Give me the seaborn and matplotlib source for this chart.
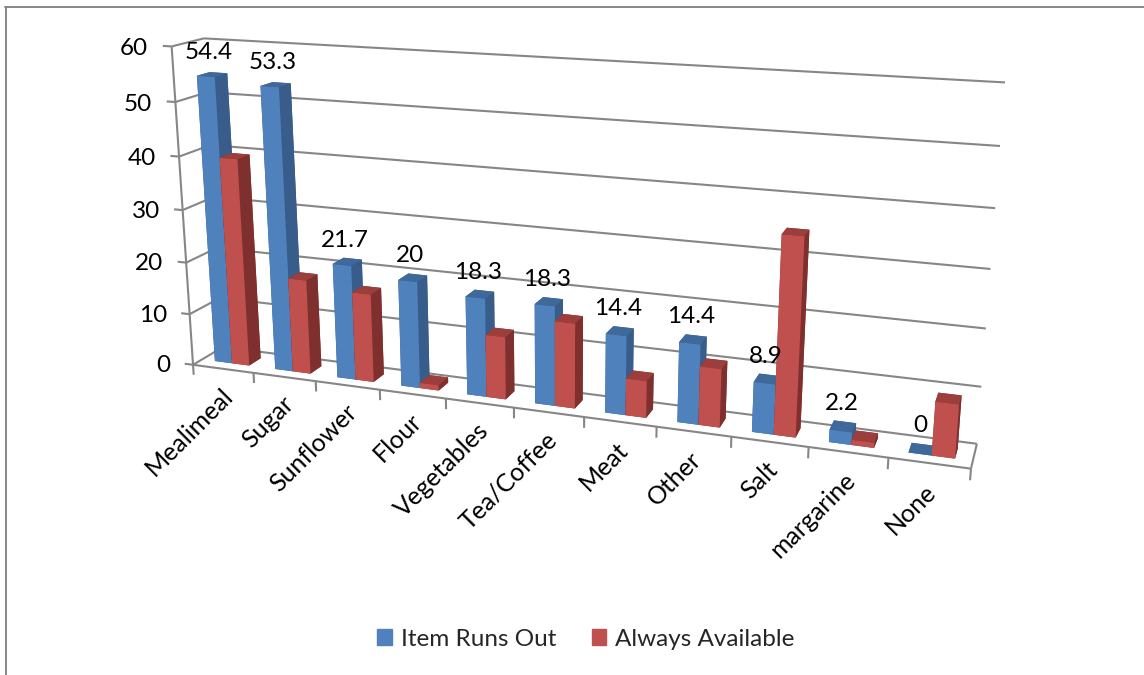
import matplotlib
matplotlib.use("Agg")
import matplotlib.pyplot as plt
from matplotlib.patches import Patch
from mpl_toolkits.mplot3d import proj3d
import seaborn as sns

categories = ["Mealimeal", "Sugar", "Sunflower", "Flour", "Vegetables", "Tea/Coffee",
              "Meat", "Other", "Salt", "margarine", "None"]
runs_out = [54.4, 53.3, 21.7, 20, 18.3, 18.3, 14.4, 14.4, 8.9, 2.2, 0]
always = [39.6, 18, 16.7, 1, 11.6, 15.6, 6.7, 10.5, 34.7, 0.9, 9.3]
value_ticks = [0, 10, 20, 30, 40, 50, 60]
series_names = ["Item Runs Out", "Always Available"]

sns.set_theme(style="white")
plt.rcParams["font.family"] = ["Lato", "DejaVu Sans"]

blue, red = sns.color_palette(["#4F81BD", "#C0504D"])
blue_side, red_side = sns.color_palette(["#385D8A", "#7F302E"])
blue_top, red_top = sns.color_palette(["#40699B", "#9C3F3C"])
grid_color = "#868686"
text_size = 17.5

W, H = 1144, 675
fig = plt.figure(figsize=(W / 100, H / 100), dpi=100, facecolor="white")
side = W
centre_x, centre_y = 543.5, 253
ax = fig.add_axes([(centre_x - side / 2) / W, (H - centre_y - side / 2) / H, side / W, side / H],
                  projection="3d", computed_zorder=False)
ax.set_proj_type("persp", focal_length=0.25)
ax.view_init(elev=15.5, azim=-70.5)
box = (1.345, 0.10, 0.568)
ax.set_box_aspect(box, zoom=0.775 * sum(b**2 for b in box) ** 0.5 / 1.478)
ax.set_axis_off()
ax.patch.set_alpha(0)

n = len(categories)
top = value_ticks[-1]
ax.set_xlim(0, n, view_margin=0)
ax.set_ylim(0, 1, view_margin=0)
ax.set_zlim(0, top, view_margin=0)
projection = ax.get_proj()
line = dict(color=grid_color, lw=1.5, zorder=1, solid_capstyle="butt")


def label(x, y, z, text, **style):
    """Place flat text at the screen position of a point in the chart's 3D space."""
    px, py, _ = proj3d.proj_transform(x, y, z, projection)
    ax.text2D(px, py, text, transform=ax.transData, color="black", zorder=100, **style)


# Wall gridlines and value ticks
for v in value_ticks:
    ax.plot([0, n], [1, 1], [v, v], **line)
    ax.plot([0, 0], [0, 1], [v, v], **line)
    ax.plot([-0.14, 0], [0, 0], [v, v], **line)
    label(-0.38, 0, v - 0.7, str(v), ha="right", va="center", fontsize=text_size)

# Floor outline, vertical axis and category ticks
ax.plot([0, 0], [0, 0], [0, top], **line)
ax.plot([0, n], [0, 0], [0, 0], **line)
ax.plot([n, n], [0, 1], [0, 0], **line)
for i in range(n + 1):
    ax.plot([i, i], [0, 0], [0, -2], **line)

# Clustered columns: 150% gap width and 150% gap depth
bar_w = 1 / 3.5
bar_d = 1 / 2.5
margin_x = 1.5 * bar_w / 2
margin_y = 1.5 * bar_d / 2
series = [(runs_out, blue, blue_side, blue_top), (always, red, red_side, red_top)]
order = 10
for i in range(n):
    for k, (vals, front, dark, roof) in enumerate(series):
        faces = [dark, roof, front, dark, dark, dark]
        ax.bar3d(i + margin_x + k * bar_w, margin_y, 0, bar_w, bar_d, vals[i],
                 color=faces, shade=False, linewidth=0, edgecolor="none", zorder=order)
        order += 1

# Value labels above the first series
for i, v in enumerate(runs_out):
    label(i + margin_x + bar_w / 2 - 0.03, 0.5, v + 4, f"{v:g}", ha="center", va="center",
          fontsize=text_size)

# Slanted category labels
for i, name in enumerate(categories):
    label(i + 0.45, 0, -3.0, name, ha="right", va="top", rotation=45,
          rotation_mode="anchor", fontsize=18)

handles = [Patch(color=blue), Patch(color=red)]
fig.legend(handles, series_names, loc="center", bbox_to_anchor=(586 / W, 1 - 639 / H), ncol=2,
           frameon=False, fontsize=text_size, handlelength=0.6, handleheight=0.6,
           handletextpad=0.38, columnspacing=1.45)

# Chart frame on the top and left edges
fig.add_artist(plt.Line2D([6 / W, 6 / W], [0, 1 - 7 / H], color=grid_color, lw=1.4))
fig.add_artist(plt.Line2D([5 / W, 1], [1 - 7 / H, 1 - 7 / H], color=grid_color, lw=1.4))

fig.savefig("out.png", dpi=100)
